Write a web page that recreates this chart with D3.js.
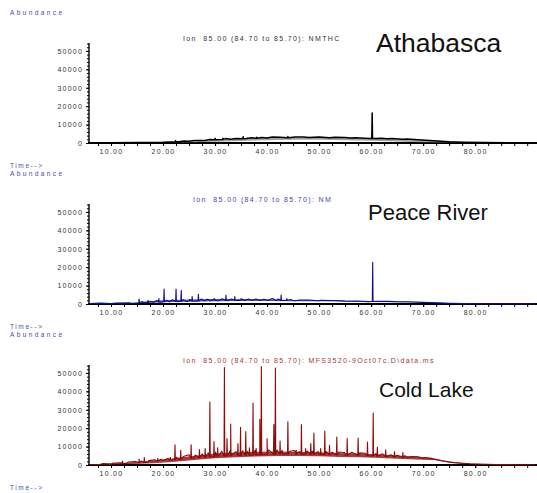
<!DOCTYPE html>
<html>
<head>
<meta charset="utf-8">
<script src="https://cdn.jsdelivr.net/npm/d3@7"></script>
<style>
  body { margin: 0; background: #fff; }
  svg text { font-family: "Liberation Sans", Arial, sans-serif; white-space: pre; }
</style>
</head>
<body>
<svg id="chart" width="537" height="493"></svg>
<script>
// axis ticks
var TIME_TICKS = [10, 20, 30, 40, 50, 60, 70, 80];
var ABUND_TICKS = [0, 10000, 20000, 30000, 40000, 50000];

// panel labels
var SAMPLES = ['Athabasca', 'Peace River', 'Cold Lake'];
var TITLES = [
    'Ion  85.00 (84.70 to 85.70): NMTHC',
    'Ion  85.00 (84.70 to 85.70): NM',
    'Ion  85.00 (84.70 to 85.70): MFS3520-9Oct07c.D\\data.ms'
];

// [time, abundance] - Athabasca
var athaBase = [[5.8,200],[10,200],[15,300],[20,400],[23,700],[25,1000],[28,1400],[30,1800],[33,2100],[36,2400],[40,2700],[44,2900],[48,3000],[52,2900],[56,2700],[59.7,2400],[61,2400],[63,2300],[66,2100],[69,1800],[72,1200],[75,700],[78,400],[82,250],[86,150],[91.5,100]];
var athaNoise = [[24,1100],[26,1300],[29,1900],[32,2400],[34,2500],[37,2900],[39,3000],[41,3200],[42.5,3100],[45.5,3300],[47,3300],[50,3200],[53,3100],[55,3000],[57,2800],[62,2600],[64,2500],[67,2200]];
var athaPeaks = [[22.4,1300],[30,2600],[31.5,2500],[35.4,3400],[38,3100],[44,3500],[60.2,16300]];
// [time, low, high] band under the trace
var athaBand = [[22,0,300],[26,300,1000],[30,700,1800],[35,1100,2400],[40,1500,2700],[45,1700,2900],[50,1700,2900],[55,1500,2700],[60,1200,2400],[65,800,2100],[70,300,1700],[73,0,1200],[77,0,600],[81,0,200],[85,0,100]];

// Peace River
var peaceBase = [[5.8,300],[10,300],[14,400],[17,800],[20,1200],[25,1600],[30,1900],[35,2000],[40,2000],[45,1900],[50,1800],[55,1500],[59.5,1300],[61,1400],[65,1200],[70,900],[75,400],[78,200],[85,100],[91.5,100]];
var peaceNoise = [[8,500],[11,450],[13.5,600],[15.9,1300],[16.5,600],[17.6,1500],[18.2,900],[18.8,1900],[19.6,1000],[20.7,2100],[21.2,1200],[21.8,2300],[22.9,1300],[23.9,2400],[24.4,1400],[25.1,2500],[26.1,1500],[27.4,2700],[27.9,1700],[28.5,2600],[29.2,1800],[29.9,2900],[30.6,1800],[31.4,2800],[32.6,1900],[33.2,2700],[34.4,1900],[35,2900],[35.7,1900],[36.4,2700],[37.1,2000],[37.9,2700],[38.6,1900],[39.4,2600],[40.2,1900],[41,3000],[41.8,1900],[42.2,2700],[43.3,1900],[44.5,2400],[45.3,1800],[46.2,2200],[48,2100],[50.2,2000],[52.5,1900],[54.8,1700],[57.2,1600],[63.5,1400],[67,1200]];
var peacePeaks = [[15.4,2700],[17.1,2000],[19.2,3000],[20.2,8100],[22.5,8100],[23.5,7400],[25.6,4000],[26.8,5300],[32.1,4700],[33.8,4000],[42.7,4900],[43.8,3000],[60.3,22600]];
var peaceBand = [[14,300,600],[17,600,1500],[20,900,2100],[25,1200,2500],[30,1500,2700],[35,1600,2700],[40,1600,2600],[45,1500,2200],[50,1500,1900],[55,1300,1700],[60,1100,1500],[70,800,1100],[75,300,500],[78,150,300],[82,80,150]];

// Cold Lake
var coldBase = [[5.8,300],[8,400],[10,500],[13,900],[17,1400],[20,2500],[23,3000],[26,3800],[30,4500],[33,5000],[36,5300],[40,5700],[43,5900],[47,5900],[50,5700],[55,5300],[60,5000],[63,4500],[67,4000],[70,3500],[72,3300],[73.5,2300],[76,1300],[79,700],[84,300],[88,150],[91.5,100]];
var coldNoise = [[8.5,800],[10.2,900],[11.8,1200],[13.3,1600],[14.7,1900],[15.8,2200],[17.3,2400],[18.4,2800],[19.6,3100],[21,3600],[22.6,4200],[23.9,4600],[25,5600],[26.2,5400],[27.5,6000],[28.7,6600],[30.1,7000],[31.3,7400],[32.9,7800],[34,7300],[35.3,7700],[36.2,7400],[37.7,8000],[38.6,8300],[40.3,8200],[41.9,8100],[42.9,8000],[44.4,7500],[45.3,7900],[46.2,7300],[47.7,7600],[48.7,7500],[49.8,7300],[51.4,7300],[52.5,7000],[53.8,7100],[54.9,6800],[56.3,6900],[57.8,6600],[58.8,6400],[60.9,6200],[62.2,6100],[63.8,5600],[65,5300],[66.5,5100],[67.8,4600],[69,4500],[70.3,4100],[71.6,3600]];
var coldPeaks = [[12.2,2100],[15.4,3200],[16.4,4100],[19.0,3600],[21.4,4100],[22.3,11000],[23.4,8000],[25.4,11000],[27.0,8400],[28.1,8900],[29.0,34200],[29.8,12800],[30.5,9300],[31.8,52900],[32.3,14300],[33.0,22300],[34.4,11600],[34.9,20500],[35.9,18200],[36.6,9400],[37.3,33700],[37.9,8900],[38.6,24800],[38.9,53500],[40.0,14300],[41.3,22000],[41.6,52600],[42.5,13000],[44.0,23500],[45.6,8000],[46.6,21900],[47.4,9000],[48.4,11600],[49.0,17300],[50.3,9000],[51.1,18400],[52.0,10700],[53.4,15200],[55.4,14400],[57.5,14600],[59.3,12500],[60.4,28200],[61.2,9800],[62.8,8200],[64.5,7300],[66.1,6800]];
var coldBand = [[6,0,400],[10,200,800],[14,500,1500],[18,1000,2500],[21,1500,3300],[24,2200,4300],[27,3000,5300],[30,3600,6200],[34,4200,6800],[38,4600,7200],[42,4900,7300],[46,4900,7200],[50,4700,6900],[54,4400,6500],[58,4200,6200],[62,3800,5700],[66,3300,5000],[70,2900,4300],[72.5,2600,3400],[75,1200,1700],[78,600,900],[82,250,450],[86,100,250],[91.5,50,150]];

var PANEL_STEP = 161;

function buildTrace(base, noise, peaks) {
    var baseAt = d3.scaleLinear()
        .domain(base.map(function (d) { return d[0]; }))
        .range(base.map(function (d) { return d[1]; }));
    var pts = base.concat(noise);

    peaks.forEach(function (p) {
        pts.push([p[0] - 0.07, baseAt(p[0] - 0.07)], [p[0], p[1]], [p[0] + 0.07, baseAt(p[0] + 0.07)]);
    });

    return pts.sort(function (a, b) { return a[0] - b[0]; });
}

function drawPanel(svg, index, opts) {
    var off = index * PANEL_STEP,
        zero = 143 + off;

    var x = d3.scaleLinear().domain([5.77, 91.5]).range([89, 535]);
    var y = d3.scaleLinear().domain([0, 54300]).range([zero, zero - 100]);

    var g = svg.append("g");

    // y axis
    var yMinor = d3.range(0, 54001, 2000);
    g.append("g")
        .attr("transform", "translate(89,0)")
        .call(d3.axisLeft(y).tickValues(yMinor).tickSize(2).tickFormat(""))
        .call(function (a) { a.select(".domain").remove(); a.selectAll("line").attr("stroke", "#000"); });

    var yAxis = g.append("g")
        .attr("transform", "translate(89,0)")
        .call(d3.axisLeft(y).tickValues(ABUND_TICKS).tickSize(3).tickPadding(3).tickFormat(d3.format("d")));
    yAxis.select(".domain").attr("stroke-width", 1.4).attr("d", "M0," + (zero - 100) + "V" + zero);
    yAxis.selectAll("text").attr("font-size", 7).attr("letter-spacing", 1.2).attr("fill", "#333")
        .attr("font-family", "Liberation Sans, Arial, sans-serif");

    // x axis
    var xMinor = d3.range(7.5, 91, 2.5);
    g.append("g")
        .attr("transform", "translate(0," + zero + ")")
        .call(d3.axisBottom(x).tickValues(xMinor).tickSize(3).tickFormat(""))
        .call(function (a) { a.select(".domain").remove(); });

    var xAxis = g.append("g")
        .attr("transform", "translate(0," + zero + ")")
        .call(d3.axisBottom(x).tickValues(TIME_TICKS).tickSize(3).tickPadding(3).tickFormat(d3.format(".2f")));
    xAxis.select(".domain").attr("stroke-width", 2).attr("d", "M88,0H537");
    xAxis.selectAll("text").attr("font-size", 7).attr("letter-spacing", 1.3).attr("fill", "#333")
        .attr("font-family", "Liberation Sans, Arial, sans-serif");

    // noise band
    var area = d3.area()
        .x(function (d) { return x(d[0]); })
        .y0(function (d) { return y(d[1]); })
        .y1(function (d) { return y(d[2]); });

    g.append("path")
        .datum(opts.band)
        .attr("d", area)
        .attr("fill", opts.bandColor)
        .attr("opacity", opts.bandOpacity);

    // trace
    var line = d3.line()
        .x(function (d) { return x(d[0]); })
        .y(function (d) { return y(d[1]); });

    g.append("path")
        .datum(opts.trace)
        .attr("d", line)
        .attr("fill", "none")
        .attr("stroke", opts.color)
        .attr("stroke-width", opts.strokeW)
        .attr("stroke-linejoin", "round");

    // texts
    g.append("text")
        .attr("x", opts.titleX).attr("y", zero - 102.5)
        .attr("font-size", 7).attr("letter-spacing", 1.35)
        .attr("fill", opts.titleColor)
        .text(TITLES[index]);

    g.append("text")
        .attr("x", opts.nameX)
        .attr("y", zero + opts.nameDy)
        .attr("font-size", opts.nameSize)
        .attr("fill", "#111")
        .text(SAMPLES[index]);

    g.append("text")
        .attr("x", 10).attr("y", zero + 24.5)
        .attr("font-size", 6.5).attr("letter-spacing", 1.6)
        .attr("fill", "#4a4aa6")
        .text("Time-->");
}

var svg = d3.select("#chart");

svg.append("text")
    .attr("x", 10).attr("y", 14.5)
    .attr("font-size", 6.5).attr("letter-spacing", 2.4)
    .attr("fill", "#4a4aa6")
    .text("Abundance");

[1, 2].forEach(function (i) {
    svg.append("text")
        .attr("x", 10).attr("y", 143 + (i - 1) * PANEL_STEP + 32.5)
        .attr("font-size", 6.5).attr("letter-spacing", 2.4)
        .attr("fill", "#4a4aa6")
        .text("Abundance");
});

drawPanel(svg, 0, {
    trace: buildTrace(athaBase, athaNoise, athaPeaks), band: athaBand,
    color: "#000", bandColor: "#555", bandOpacity: 0.55, strokeW: 1.5,
    titleColor: "#333", titleX: 183, nameX: 376, nameDy: -91, nameSize: 26.5
});
drawPanel(svg, 1, {
    trace: buildTrace(peaceBase, peaceNoise, peacePeaks), band: peaceBand,
    color: "#10108a", bandColor: "#10108a", bandOpacity: 0.7, strokeW: 1.1,
    titleColor: "#4646a6", titleX: 193, nameX: 368, nameDy: -84, nameSize: 22
});
drawPanel(svg, 2, {
    trace: buildTrace(coldBase, coldNoise, coldPeaks), band: coldBand,
    color: "#8e0b0b", bandColor: "#8e0b0b", bandOpacity: 0.8, strokeW: 1.1,
    titleColor: "#a33a3a", titleX: 183, nameX: 379, nameDy: -68.5, nameSize: 21
});
</script>
</body>
</html>
